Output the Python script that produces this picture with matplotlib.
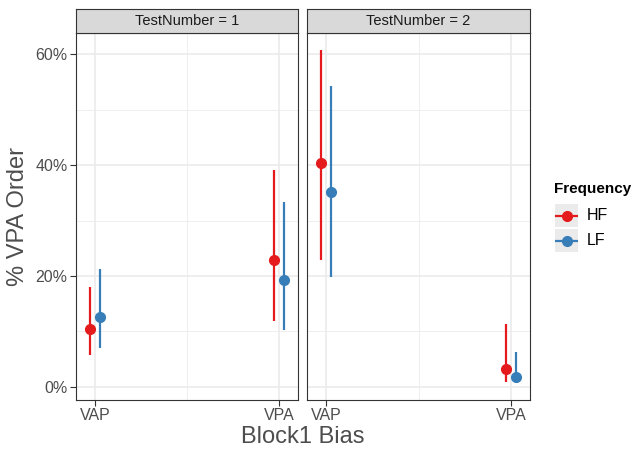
import matplotlib
matplotlib.use("Agg")
import matplotlib.pyplot as plt
import numpy as np

plt.rcParams['font.family'] = ['Liberation Sans', 'DejaVu Sans']

categories = ["VAP", "VPA"]
test_numbers = [1, 2]
freqs = ["HF", "LF"]
colors = {"HF": "#E41A1C", "LF": "#377EB8"}

# values in percent, per test number
hf_mean = {1: [10.4, 22.8], 2: [40.4, 3.2]}
hf_lo = {1: [5.7, 11.9], 2: [22.9, 0.9]}
hf_hi = {1: [18.0, 39.2], 2: [60.8, 11.4]}
lf_mean = {1: [12.5, 19.3], 2: [35.1, 1.8]}
lf_lo = {1: [7.0, 10.2], 2: [19.8, 0.6]}
lf_hi = {1: [21.2, 33.4], 2: [54.3, 6.2]}

series = {"HF": (hf_mean, hf_lo, hf_hi), "LF": (lf_mean, lf_lo, lf_hi)}
offsets = {"HF": -0.025, "LF": 0.025}

W, H = 635, 449
fig = plt.figure(figsize=(W / 100, H / 100), dpi=100)

panel_x = [(76, 298), (307, 530)]
p_top, p_bot = 33, 400
strip_top = 9
grey20 = "#333333"
grey30 = "#4D4D4D"
gridc = "#EBEBEB"

for i, tn in enumerate(test_numbers):
    x0, x1 = panel_x[i]
    ax = fig.add_axes([x0 / W, 1 - p_bot / H, (x1 - x0) / W, (p_bot - p_top) / H])
    ax.set_xlim(0.897, 2.103)
    ax.set_ylim(-2.4, 63.85)
    for y in [10, 30, 50]:
        ax.axhline(y, color=gridc, lw=0.6, zorder=0)
    for y in [0, 20, 40, 60]:
        ax.axhline(y, color=gridc, lw=1.2, zorder=0)
    ax.axvline(1.5, color=gridc, lw=0.6, zorder=0)
    for xv in [1, 2]:
        ax.axvline(xv, color=gridc, lw=1.2, zorder=0)
    xs = np.arange(1, len(categories) + 1)
    for f in freqs:
        m, lo, hi = series[f]
        xx = xs + offsets[f]
        ax.vlines(xx, lo[tn], hi[tn], color=colors[f], lw=1.6, zorder=3)
        ax.plot(xx, m[tn], 'o', color=colors[f], ms=7, zorder=4)
    ax.set_xticks(xs)
    ax.set_xticklabels(categories)
    ax.set_yticks([0, 20, 40, 60])
    ax.set_yticklabels(["0%", "20%", "40%", "60%"])
    ax.tick_params(axis='both', length=4, width=0.8, color=grey20,
                   labelcolor=grey30, labelsize=11.5, pad=2)
    if i > 0:
        ax.tick_params(axis='y', left=False, labelleft=False)
    for s in ax.spines.values():
        s.set_color(grey20)
        s.set_linewidth(0.8)
    # strip
    sax = fig.add_axes([x0 / W, 1 - p_top / H, (x1 - x0) / W, (p_top - strip_top) / H])
    sax.set_xticks([]); sax.set_yticks([])
    sax.set_facecolor("#D9D9D9")
    for s in sax.spines.values():
        s.set_color(grey20)
        s.set_linewidth(0.8)
    sax.text(0.5, 0.5, f"TestNumber = {tn}", ha='center', va='center',
             fontsize=10.5, color="#1A1A1A", transform=sax.transAxes)

fig.text(303 / W, 1 - 437 / H, "Block1 Bias", ha='center', va='center',
         fontsize=17, color="#4D4D4D")
fig.text(18 / W, 1 - ((p_top + p_bot) / 2) / H, "% VPA Order", ha='center',
         va='center', rotation=90, fontsize=17, color="#4D4D4D")

# legend
fig.text(554 / W, 1 - 189 / H, "Frequency", ha='left', va='center',
         fontsize=11, fontweight='bold', color='black')
for j, f in enumerate(freqs):
    ky0 = 204 + j * 25
    kx0 = 555
    kax = fig.add_axes([kx0 / W, 1 - (ky0 + 23) / H, 23 / W, 23 / H])
    kax.set_xlim(0, 1); kax.set_ylim(0, 1)
    kax.set_facecolor("#EBEBEB")
    kax.set_xticks([]); kax.set_yticks([])
    for s in kax.spines.values():
        s.set_visible(False)
    kax.plot([0.05, 0.95], [0.5, 0.5], color=colors[f], lw=1.6)
    kax.plot([0.5], [0.5], 'o', color=colors[f], ms=7)
    fig.text(587 / W, 1 - (ky0 + 11.5) / H, f, ha='left', va='center',
             fontsize=11.5, color='black')

fig.savefig("out.png", dpi=100)
